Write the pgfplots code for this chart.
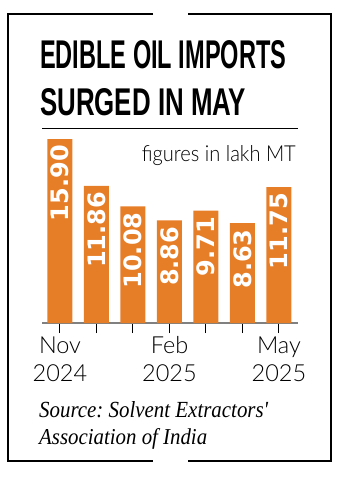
\documentclass[border=0pt]{standalone}
\usepackage{pgfplots}
\pgfplotsset{compat=1.18}
\usepackage{fontspec}
\setmainfont{Liberation Sans}
\newfontfamily\lightfont{Lato Light}
\newfontfamily\numfont{DejaVu Sans Bold}
\newfontfamily\serifit{Liberation Serif Italic}
\definecolor{barorange}{HTML}{E67E28}
\frenchspacing
\begin{document}
\begin{tikzpicture}
\path[use as bounding box] (0,0) rectangle (344bp,-479bp);
% frame
\draw[line width=1.5bp] (153bp,-14bp) -- (8bp,-14bp) -- (8bp,-461bp) -- (153bp,-461bp);
\draw[line width=1.5bp] (188bp,-14bp) -- (331bp,-14bp) -- (331bp,-461bp) -- (188bp,-461bp);
% title
\node[anchor=base west, inner sep=0] at (40bp,-68bp) {\resizebox{246bp}{28bp}{\bfseries EDIBLE OIL IMPORTS}};
\node[anchor=base west, inner sep=0] at (40bp,-115bp) {\resizebox{206bp}{27bp}{\bfseries SURGED IN MAY}};
\draw[line width=0.8bp] (42bp,-128bp) -- (298bp,-128bp);
\node[anchor=base east, inner sep=0] at (296bp,-161bp) {\resizebox{154bp}{16bp}{\lightfont figures in lakh MT}};
% source
\node[anchor=base west, inner sep=0] at (39bp,-417bp) {\resizebox{229bp}{16bp}{\serifit Source: Solvent Extractors'}};
\node[anchor=base west, inner sep=0] at (39bp,-444bp) {\resizebox{168bp}{16bp}{\serifit Association of India}};
\begin{axis}[
  at={(42bp,-323bp)}, anchor=south west,
  x=36.5bp, y=11.57bp,
  xmin=-0.493, xmax=6.52, ymin=0, ymax=16,
  ybar, bar width=25bp, bar shift=0pt,
  axis x line=bottom, axis y line=none,
  x axis line style={-, line width=1.5bp, draw=gray},
  xtick={0,...,6},
  xticklabels={{Nov\\2024},{},{},{Feb\\2025},{},{},{May\\2025}},
  xticklabel style={font=\lightfont\fontsize{23.5bp}{28bp}\selectfont, align=center},
  tick align=outside, major tick length=10bp,
  tick style={line width=1bp, black},
  nodes near coords={\pgfmathprintnumber[fixed,fixed zerofill,precision=2,assume math mode=true]{\pgfplotspointmeta}},
  nodes near coords style={rotate=90, anchor=east, font=\numfont\fontsize{24bp}{24bp}\selectfont, text=white, inner xsep=6bp, inner ysep=0pt},
]
\addplot[fill=barorange, draw=none] coordinates {(0,15.90) (1,11.86) (2,10.08) (3,8.86) (4,9.71) (5,8.63) (6,11.75)};
\end{axis}
\end{tikzpicture}
\end{document}
